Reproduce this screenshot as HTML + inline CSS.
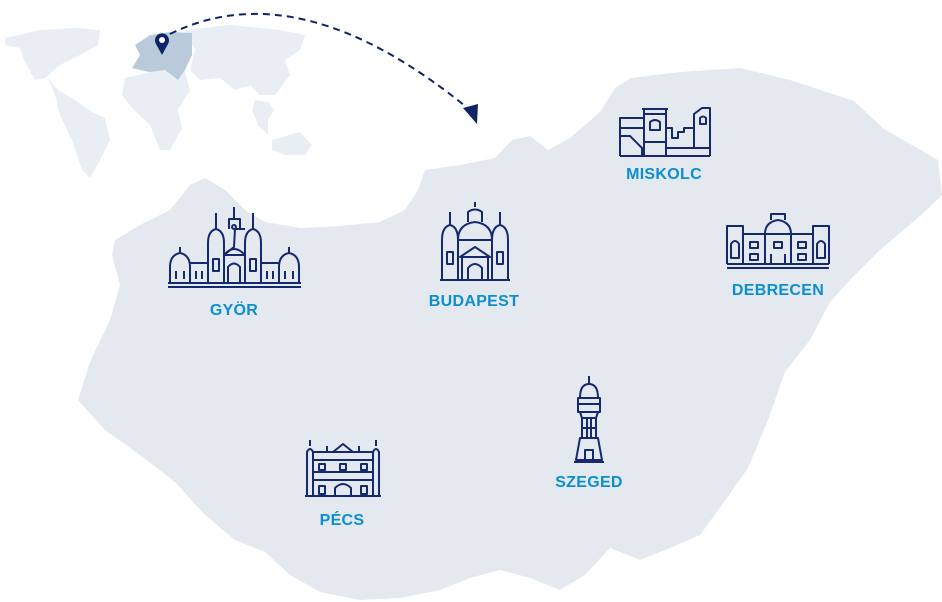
<!DOCTYPE html>
<html><head><meta charset="utf-8"><style>
html,body{margin:0;padding:0;background:#fff;}
body{width:942px;height:602px;overflow:hidden;}
svg{display:block}
.l{font-family:"Liberation Sans",sans-serif;font-weight:bold;font-size:16px;fill:#0b8fd0;text-anchor:middle;letter-spacing:0.3px}
.i{fill:none;stroke:#152a6e;stroke-width:2;stroke-linejoin:round}
</style></head><body>
<svg width="942" height="602" viewBox="0 0 942 602">
<g fill="#e9eef5">
<path d="M5,38 L40,30 L75,28 L100,30 L98,45 L80,55 L60,65 L45,78 L35,80 L25,62 L20,48 L5,45Z"/>
<path d="M48,78 L58,90 L75,100 L92,112 L105,118 L110,140 L100,160 L90,178 L82,170 L72,140 L60,115 L55,95Z"/>
<path d="M125,78 L160,70 L185,72 L190,90 L178,110 L182,128 L170,150 L160,150 L150,125 L132,108 L122,95Z"/>
<path d="M185,30 L230,25 L280,30 L305,35 L300,50 L285,60 L290,75 L275,95 L260,95 L250,85 L235,90 L220,78 L200,80 L190,70 L195,50Z"/>
<path d="M255,100 L268,102 L274,110 L268,120 L268,135 L258,125 L252,110Z"/>
<path d="M272,140 L300,132 L312,145 L305,155 L285,155 L272,150Z"/>
</g>
<path d="M132,68 L140,55 L135,45 L150,35 L170,32 L192,33 L192,55 L185,70 L178,80 L165,70 L150,72 L140,70Z" fill="#b9cbdb"/>
<path d="M162,55 L156,44 A7,7 0 1 1 168,44 Z" fill="#0e2466"/>
<circle cx="162" cy="40" r="3" fill="#fff"/>
<path d="M170,34 Q300,-30 470,110" fill="none" stroke="#0e2466" stroke-width="2" stroke-dasharray="7,5"/>
<path d="M463,108 L478,104 L477,124 Z" fill="#0e2466"/>
<path fill="#e4e9f0" d="M115,240 L140,225 L170,210 L190,185 L205,178 L225,190 L245,210 L265,222 L300,228 L340,226 L380,222 L405,210 L418,190 L425,170 L460,165 L495,158 L512,140 L530,136 L548,150 L570,138 L600,112 L615,88 L631,78 L680,72 L740,68 L790,80 L854,101 L884,129 L938,160 L942,195 L920,216 L880,250 L848,282 L830,302 L810,340 L785,372 L768,420 L748,468 L722,505 L700,535 L670,548 L640,560 L610,548 L585,575 L560,590 L530,578 L500,570 L470,578 L440,590 L400,598 L360,600 L320,592 L290,575 L265,552 L235,540 L205,515 L175,482 L140,455 L105,430 L78,400 L90,362 L110,320 L120,285 L112,255Z"/>
<g class="i" transform="translate(168,205)">
<path d="M0,82 H133"/><path d="M0,78 H133"/>
<path d="M2,78 V62 Q2,50 12,48 Q22,50 22,62 V78"/><path d="M12,48 V42"/>
<path d="M22,58 H40 V78"/><path d="M111,78 V62 Q111,50 121,48 Q131,50 131,62 V78"/><path d="M121,48 V42"/><path d="M93,58 H111"/>
<path d="M40,78 V38 Q40,26 48,24 Q56,26 56,38 V78"/><path d="M48,24 V8"/>
<path d="M77,78 V38 Q77,26 85,24 Q93,26 93,38 V78"/><path d="M85,24 V8"/>
<path d="M56,50 L66,42 L67,24 H77"/><path d="M56,50 H77"/>
<path d="M61,24 V14 H72 V24"/><path d="M66,14 V2"/><circle cx="66" cy="22" r="2"/>
<path d="M56,50 Q66,38 77,50"/><path d="M60,78 V62 Q66,55 72,62 V78"/>
<path d="M8,74 V66 M16,74 V66 M28,74 V66 M34,74 V66 M99,74 V66 M105,74 V66 M117,74 V66 M125,74 V66"/>
<path d="M45,66 V54 H51 V66 Z M82,66 V54 H88 V66 Z"/>
</g>
<text class="l" x="234" y="315">GYÖR</text>
<g class="i" transform="translate(440,202)">
<path d="M0,78 H70"/>
<path d="M2,78 V38 Q2,25 10,23 Q18,25 18,38 V78"/><path d="M10,23 V10"/>
<path d="M52,78 V38 Q52,25 60,23 Q68,25 68,38 V78"/><path d="M60,23 V10"/>
<path d="M18,38 Q18,22 35,20 Q52,22 52,38"/><path d="M28,20 V10 Q35,5 42,10 V20"/><path d="M35,5 V0"/>
<path d="M18,38 H52"/><path d="M20,55 L35,45 L50,55 Z"/><path d="M22,78 V55 M48,78 V55"/>
<path d="M28,78 V66 Q35,58 42,66 V78"/>
<path d="M7,62 V50 H13 V62 Z M57,62 V50 H63 V62 Z"/>
</g>
<text class="l" x="474" y="306">BUDAPEST</text>
<g class="i" transform="translate(620,106)">
<path d="M0,50 H90"/><path d="M0,50 V12 H24"/><path d="M0,22 H24"/><path d="M0,30 L10,30 L22,42 L22,50"/>
<path d="M24,50 V8 H46 V50"/><path d="M22,3 H48"/><path d="M24,8 V3 M46,8 V3"/><path d="M24,36 H46"/>
<path d="M30,24 V16 Q35,12 40,16 V24 Z"/>
<path d="M46,42 H90 M46,22 H52 V32 H58 V26 H64 V22 H74 V8 L82,2 H90 V50"/><path d="M74,8 V42"/><path d="M80,18 V12 Q83,9 86,12 V18 Z"/>
</g>
<text class="l" x="664" y="179">MISKOLC</text>
<g class="i" transform="translate(727,214)">
<path d="M0,54 H102"/><path d="M0,50 H102"/>
<path d="M0,50 V12 H16 V50 M86,50 V12 H102 V50 M16,20 H86"/>
<path d="M38,20 Q38,8 51,6 Q64,8 64,20 V50 M38,20 V50"/><path d="M44,6 V0 H58 V6"/>
<path d="M4,44 V30 Q8,24 12,30 V44 Z M90,44 V30 Q94,24 98,30 V44 Z"/>
<path d="M23,34 V28 H31 V34 Z M23,46 V40 H31 V46 Z M71,34 V28 H79 V34 Z M71,46 V40 H79 V46 Z M47,34 V28 H55 V34Z"/>
<path d="M44,50 V40 M58,50 V40"/>
</g>
<text class="l" x="778" y="295">DEBRECEN</text>
<g class="i" transform="translate(570,376)">
<path d="M19,0 V8"/><path d="M10,22 Q10,8 19,8 Q28,8 28,22 Z"/><path d="M8,22 H30 V36 H8 Z"/>
<path d="M8,28 H30"/><path d="M10,36 L12,42 H26 L28,36"/>
<path d="M12,42 V62 H26 V42 M12,52 H26 M17,42 V62 M21,42 V62"/>
<path d="M10,62 H28 L32,84 H6 Z"/><path d="M15,84 V74 H23 V84"/><path d="M4,86 H34"/>
</g>
<text class="l" x="589" y="487">SZEGED</text>
<g class="i" transform="translate(305,438)">
<path d="M0,58 H76"/><path d="M2,58 V14 Q5,8 8,14 V58 M68,58 V14 Q71,8 74,14 V58"/><path d="M5,8 V2 M71,8 V2"/>
<path d="M8,14 H68 M8,22 H68 M8,34 H68 M8,42 H68"/><path d="M28,14 L38,6 L48,14"/><path d="M22,14 V8 M54,14 V8"/>
<path d="M30,58 V50 Q38,42 46,50 V58"/>
<path d="M14,32 V26 H20 V32 Z M56,32 V26 H62 V32 Z M35,32 V26 H41 V32 Z M14,56 V48 H20 V56 Z M56,56 V48 H62 V56 Z"/>
</g>
<text class="l" x="342" y="525">PÉCS</text>
</svg>
</body></html>
